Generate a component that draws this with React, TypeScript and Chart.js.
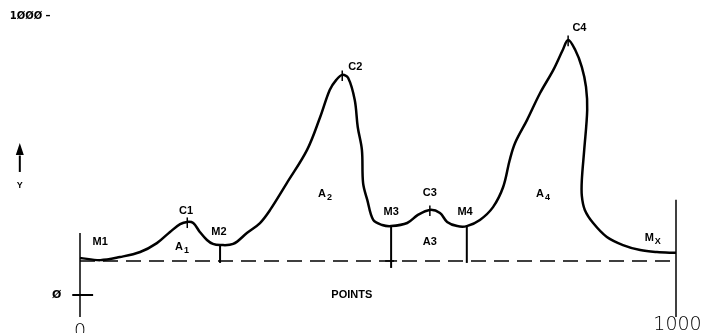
import React, { useEffect, useRef } from "react";
import { Chart, registerables } from "chart.js";

Chart.register(...registerables);

// Curve (POINTS along x, Y value)
const curveX = [0, 34, 67, 101, 129, 151, 168, 180, 190, 201, 213, 223, 235, 257, 280, 302, 319, 347, 381, 403, 419, 430, 440, 450, 461, 466, 473, 475, 482, 492, 507, 522, 549, 567, 587, 604, 616, 633, 649, 671, 693, 710, 721, 730, 750, 772, 794, 810, 819, 831, 842, 849, 851, 846, 842, 842, 847, 861, 884, 911, 940, 968, 1000];
const curveY = [133, 125, 136, 154, 186, 226, 254, 262, 258, 226, 197, 183, 179, 183, 222, 258, 305, 401, 520, 638, 735, 771, 789, 778, 699, 602, 520, 401, 341, 269, 251, 247, 258, 287, 305, 294, 262, 247, 247, 269, 315, 387, 484, 545, 627, 724, 806, 878, 914, 878, 817, 746, 663, 520, 412, 355, 305, 258, 208, 179, 161, 154, 151];

const baselineY = 122;
const baselineX = [0, 1000];

// Peaks (C) and minima (M) markers
const peakX = [180, 440, 587, 819];
const peakY = [262, 789, 305, 914];
const dropX = [235, 522, 649];
const dropTopY = [179, 247, 247];
const dropBottomY = [115, 97, 115];

// Labels
const labelText = ["M1", "C1", "A", "M2", "C2", "A", "M3", "C3", "M4", "A3", "A", "C4", "M"];
const labelSub = ["", "", "1", "", "", "2", "", "", "", "", "4", "", "X"];
const labelX = [34, 178, 171, 233, 462, 411, 522, 587, 646, 587, 777, 838, 961];
const labelY = [190, 301, 172, 226, 817, 362, 297, 366, 297, 190, 362, 957, 206];

const xAxisTitle = "POINTS";
const topTickLabel = "1ØØØ –";
const zeroTickLabel = "Ø";
const xStartLabel = "0";
const xEndLabel = "1000";
const yAxisLabel = "Y";

export default function App() {
  const ref = useRef<HTMLCanvasElement | null>(null);

  useEffect(() => {
    const canvas = ref.current;
    if (!canvas) return;

    const annot = {
      id: "annot",
      afterDatasetsDraw(chart: any) {
        const ctx = chart.ctx as CanvasRenderingContext2D;
        const xs = chart.scales.x;
        const ys = chart.scales.y;
        const px = (v: number) => xs.getPixelForValue(v);
        const py = (v: number) => ys.getPixelForValue(v);
        ctx.save();
        ctx.strokeStyle = "#000";
        ctx.fillStyle = "#000";
        ctx.lineCap = "butt";

        const seg = (x1: number, y1: number, x2: number, y2: number, w: number) => {
          ctx.lineWidth = w;
          ctx.beginPath();
          ctx.moveTo(px(x1), py(y1));
          ctx.lineTo(px(x2), py(y2));
          ctx.stroke();
        };

        // axes lines
        seg(0, 222, 0, -79, 1.5);
        seg(1000, 341, 1000, -79, 1.5);
        seg(-13, 0, 22, 0, 2);

        // drop lines
        for (let i = 0; i < dropX.length; i++) {
          seg(dropX[i], dropTopY[i], dropX[i], dropBottomY[i], 2);
        }
        // cross at M3 on baseline
        seg(dropX[1] - 10, baselineY, dropX[1] + 10, baselineY, 1.5);

        // peak ticks
        for (let i = 0; i < peakX.length; i++) {
          seg(peakX[i], peakY[i] + 16, peakX[i], peakY[i] - 22, 1.5);
        }

        // labels
        ctx.textBaseline = "middle";
        const mainFont = "bold 11px 'Liberation Sans', Arial, sans-serif";
        const subFont = "bold 9px 'Liberation Sans', Arial, sans-serif";
        for (let i = 0; i < labelText.length; i++) {
          const x = px(labelX[i]);
          const y = py(labelY[i]);
          const sub = labelSub[i];
          ctx.font = mainFont;
          if (!sub) {
            ctx.textAlign = "center";
            ctx.fillText(labelText[i], x, y);
          } else {
            const mw = ctx.measureText(labelText[i]).width;
            ctx.font = subFont;
            const sw = ctx.measureText(sub).width;
            const total = mw + sw + 1;
            ctx.textAlign = "left";
            ctx.font = mainFont;
            ctx.fillText(labelText[i], x - total / 2, y);
            ctx.font = subFont;
            ctx.fillText(sub, x - total / 2 + mw + 1, y + 4);
          }
        }

        ctx.textAlign = "center";
        ctx.font = mainFont;
        ctx.fillText(xAxisTitle, px(456), py(0));

        // top-left tick label
        ctx.textAlign = "left";
        ctx.font = "bold 10px 'DejaVu Sans', sans-serif";
        ctx.fillText(topTickLabel, px(-118), py(1000));
        // zero label
        ctx.textAlign = "center";
        ctx.font = "bold 11px 'DejaVu Sans', sans-serif";
        ctx.fillText(zeroTickLabel, px(-39), py(0));

        // x start/end labels (light)
        ctx.font = "200 19px 'DejaVu Sans', sans-serif";
        ctx.textBaseline = "alphabetic";
        ctx.fillText(xStartLabel, px(0), py(-150));
        ctx.textAlign = "left";
        ctx.fillText(xEndLabel, px(962), py(-125));

        // Y arrow
        ctx.textAlign = "center";
        ctx.textBaseline = "middle";
        ctx.font = "bold 9px 'Liberation Sans', Arial, sans-serif";
        ctx.fillText(yAxisLabel, px(-101), py(391));
        const ax = px(-101);
        ctx.lineWidth = 2;
        ctx.beginPath();
        ctx.moveTo(ax, py(441));
        ctx.lineTo(ax, py(500));
        ctx.stroke();
        ctx.beginPath();
        ctx.moveTo(ax, py(545));
        ctx.lineTo(ax - 4, py(502));
        ctx.lineTo(ax + 4, py(502));
        ctx.closePath();
        ctx.fill();

        ctx.restore();
      },
    };

    const chart = new Chart(canvas, {
      type: "line",
      data: {
        datasets: [
          {
            data: curveX.map((x, i) => ({ x, y: curveY[i] })),
            borderColor: "#000",
            borderWidth: 2.5,
            pointRadius: 0,
            tension: 0.35,
            fill: false,
            clip: false as any,
          },
          {
            data: baselineX.map((x) => ({ x, y: baselineY })),
            borderColor: "#000",
            borderWidth: 1.5,
            borderDash: [15, 8],
            pointRadius: 0,
            fill: false,
            clip: false as any,
          },
        ],
      },
      options: {
        animation: false,
        responsive: false,
        devicePixelRatio: 1,
        layout: { padding: { left: 80, right: 28, top: 16, bottom: 38 } },
        plugins: { legend: { display: false }, tooltip: { enabled: false } },
        scales: {
          x: { type: "linear", min: 0, max: 1000, display: false },
          y: { type: "linear", min: 0, max: 1000, display: false },
        },
      },
      plugins: [annot],
    });

    return () => chart.destroy();
  }, []);

  return (
    <div style={{ position: "fixed", left: 0, top: 0, width: 704, height: 333, background: "#fff" }}>
      <canvas ref={ref} width={704} height={333} style={{ width: 704, height: 333, display: "block" }} />
    </div>
  );
}
